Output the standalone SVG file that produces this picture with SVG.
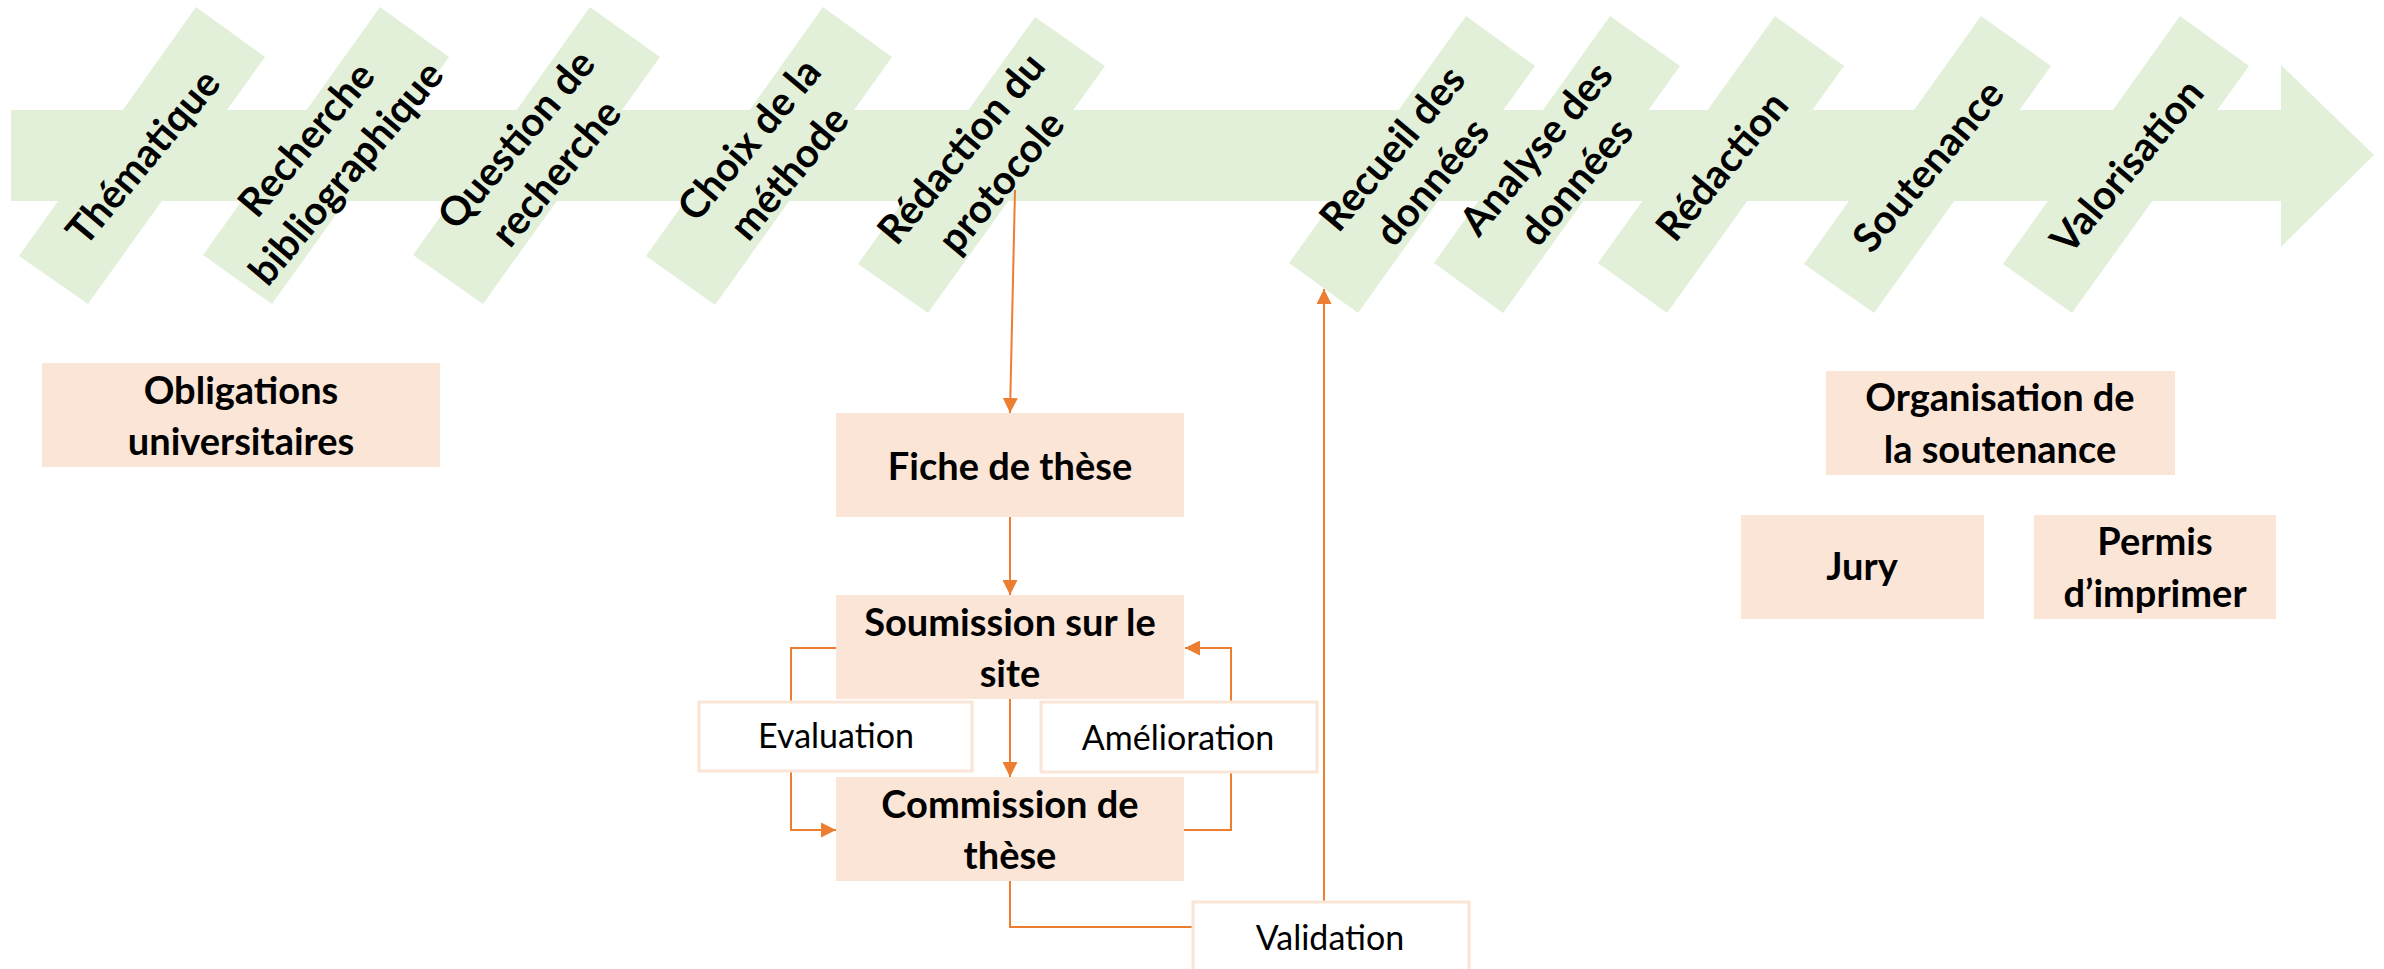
<svg xmlns="http://www.w3.org/2000/svg" width="2384" height="969" viewBox="0 0 2384 969">
<style>
.g{fill:#E2F0D9}
.box{fill:#FBE5D6}
.lbl{fill:#FFFFFF;stroke:#FBE5D6;stroke-width:3}
.t{font-family:Lato,"Liberation Sans",sans-serif;font-weight:bold;fill:#000;text-anchor:middle}
.ct{font-family:Lato,"Liberation Sans",sans-serif;font-weight:bold;fill:#000;text-anchor:middle;font-size:40px}
.r{font-family:Lato,"Liberation Sans",sans-serif;font-weight:normal;fill:#000;text-anchor:middle;font-size:34px}
.bt{font-size:38px}
.conn{fill:none;stroke:#ED7D31;stroke-width:2}
</style>
<defs>
<marker id="ah" viewBox="0 0 10 10" refX="10" refY="5" markerWidth="15" markerHeight="15" markerUnits="userSpaceOnUse" orient="auto">
<path d="M0,0 L10,5 L0,10 z" fill="#ED7D31"/>
</marker>
</defs>

<g id="timeline">
<rect class="g" x="11" y="110" width="2271" height="91"/>
<polygon class="g" points="2281,65 2374,155 2281,247"/>
</g>

<g id="thematique">
<polygon class="g" points="196,7 265,57 88,304 19,256"/>
<text class="ct" transform="translate(143,157) rotate(-50)" y="14">Thématique</text>
</g>
<g id="recherche-bibliographique">
<polygon class="g" points="380,7 449,57 272,304 203,255"/>
<text class="ct" transform="translate(326,156) rotate(-50)"><tspan x="0" y="-12">Recherche</tspan><tspan x="0" y="40">bibliographique</tspan></text>
</g>
<g id="question-de-recherche">
<polygon class="g" points="590,7 660,57 483,304 413,255"/>
<text class="ct" transform="translate(536,156) rotate(-50)"><tspan x="0" y="-12">Question de</tspan><tspan x="0" y="40">recherche</tspan></text>
</g>
<g id="choix-de-la-methode">
<polygon class="g" points="823,7 892,57 715,305 646,256"/>
<text class="ct" transform="translate(769,156) rotate(-50)"><tspan x="0" y="-12">Choix de la</tspan><tspan x="0" y="40">méthode</tspan></text>
</g>
<g id="redaction-du-protocole">
<polygon class="g" points="1035,17 1105,66 928,313 858,264"/>
<text class="ct" transform="translate(981,165) rotate(-50)"><tspan x="0" y="-12">Rédaction du</tspan><tspan x="0" y="40">protocole</tspan></text>
</g>
<g id="recueil-des-donnees">
<polygon class="g" points="1466,16 1535,66 1358,313 1289,263"/>
<text class="ct" transform="translate(1412,165) rotate(-50)"><tspan x="0" y="-12">Recueil des</tspan><tspan x="0" y="40">données</tspan></text>
</g>
<g id="analyse-des-donnees">
<polygon class="g" points="1610,16 1680,66 1503,313 1434,263"/>
<text class="ct" transform="translate(1556,165) rotate(-50)"><tspan x="0" y="-12">Analyse des</tspan><tspan x="0" y="40">données</tspan></text>
</g>
<g id="redaction">
<polygon class="g" points="1775,16 1844,66 1667,313 1598,263"/>
<text class="ct" transform="translate(1722,166) rotate(-50)" y="14">Rédaction</text>
</g>
<g id="soutenance">
<polygon class="g" points="1981,16 2051,66 1874,313 1804,264"/>
<text class="ct" transform="translate(1928,166) rotate(-50)" y="14">Soutenance</text>
</g>
<g id="valorisation">
<polygon class="g" points="2180,16 2249,66 2072,313 2003,264"/>
<text class="ct" transform="translate(2127,166) rotate(-50)" y="14">Valorisation</text>
</g>

<g id="connectors">
<polyline class="conn" points="1015,190 1010,413" marker-end="url(#ah)"/>
<polyline class="conn" points="1010,517 1010,595" marker-end="url(#ah)"/>
<polyline class="conn" points="1010,699 1010,777" marker-end="url(#ah)"/>
<polyline class="conn" points="836,648 791,648 791,830 836,830" marker-end="url(#ah)"/>
<polyline class="conn" points="1184,830 1231,830 1231,648 1185,648" marker-end="url(#ah)"/>
<polyline class="conn" points="1010,881 1010,927 1324,927 1324,289" marker-end="url(#ah)"/>
</g>

<g id="obligations-universitaires">
<rect class="box" x="42" y="363" width="398" height="104"/>
<text class="t bt" x="241"><tspan x="241" y="404">Obligations</tspan><tspan x="241" y="455">universitaires</tspan></text>
</g>
<g id="fiche-de-these">
<rect class="box" x="836" y="413" width="348" height="104"/>
<text class="t bt" x="1010" y="480">Fiche de thèse</text>
</g>
<g id="soumission-sur-le-site">
<rect class="box" x="836" y="595" width="348" height="104"/>
<text class="t bt"><tspan x="1010" y="636">Soumission sur le</tspan><tspan x="1010" y="687">site</tspan></text>
</g>
<g id="commission-de-these">
<rect class="box" x="836" y="777" width="348" height="104"/>
<text class="t bt"><tspan x="1010" y="818">Commission de</tspan><tspan x="1010" y="869">thèse</tspan></text>
</g>
<g id="evaluation">
<rect class="lbl" x="699" y="702" width="273" height="69"/>
<text class="r" x="836" y="748">Evaluation</text>
</g>
<g id="amelioration">
<rect class="lbl" x="1041" y="702" width="276" height="70"/>
<text class="r" x="1178" y="750">Amélioration</text>
</g>
<g id="validation">
<rect class="lbl" x="1193" y="902" width="276" height="75"/>
<text class="r" x="1330" y="950">Validation</text>
</g>
<g id="organisation-de-la-soutenance">
<rect class="box" x="1826" y="371" width="349" height="104"/>
<text class="t bt"><tspan x="2000" y="411">Organisation de</tspan><tspan x="2000" y="463">la soutenance</tspan></text>
</g>
<g id="jury">
<rect class="box" x="1741" y="515" width="243" height="104"/>
<text class="t bt" x="1862" y="580">Jury</text>
</g>
<g id="permis-d-imprimer">
<rect class="box" x="2034" y="515" width="242" height="104"/>
<text class="t bt"><tspan x="2155" y="555">Permis</tspan><tspan x="2155" y="607">d’imprimer</tspan></text>
</g>
</svg>
